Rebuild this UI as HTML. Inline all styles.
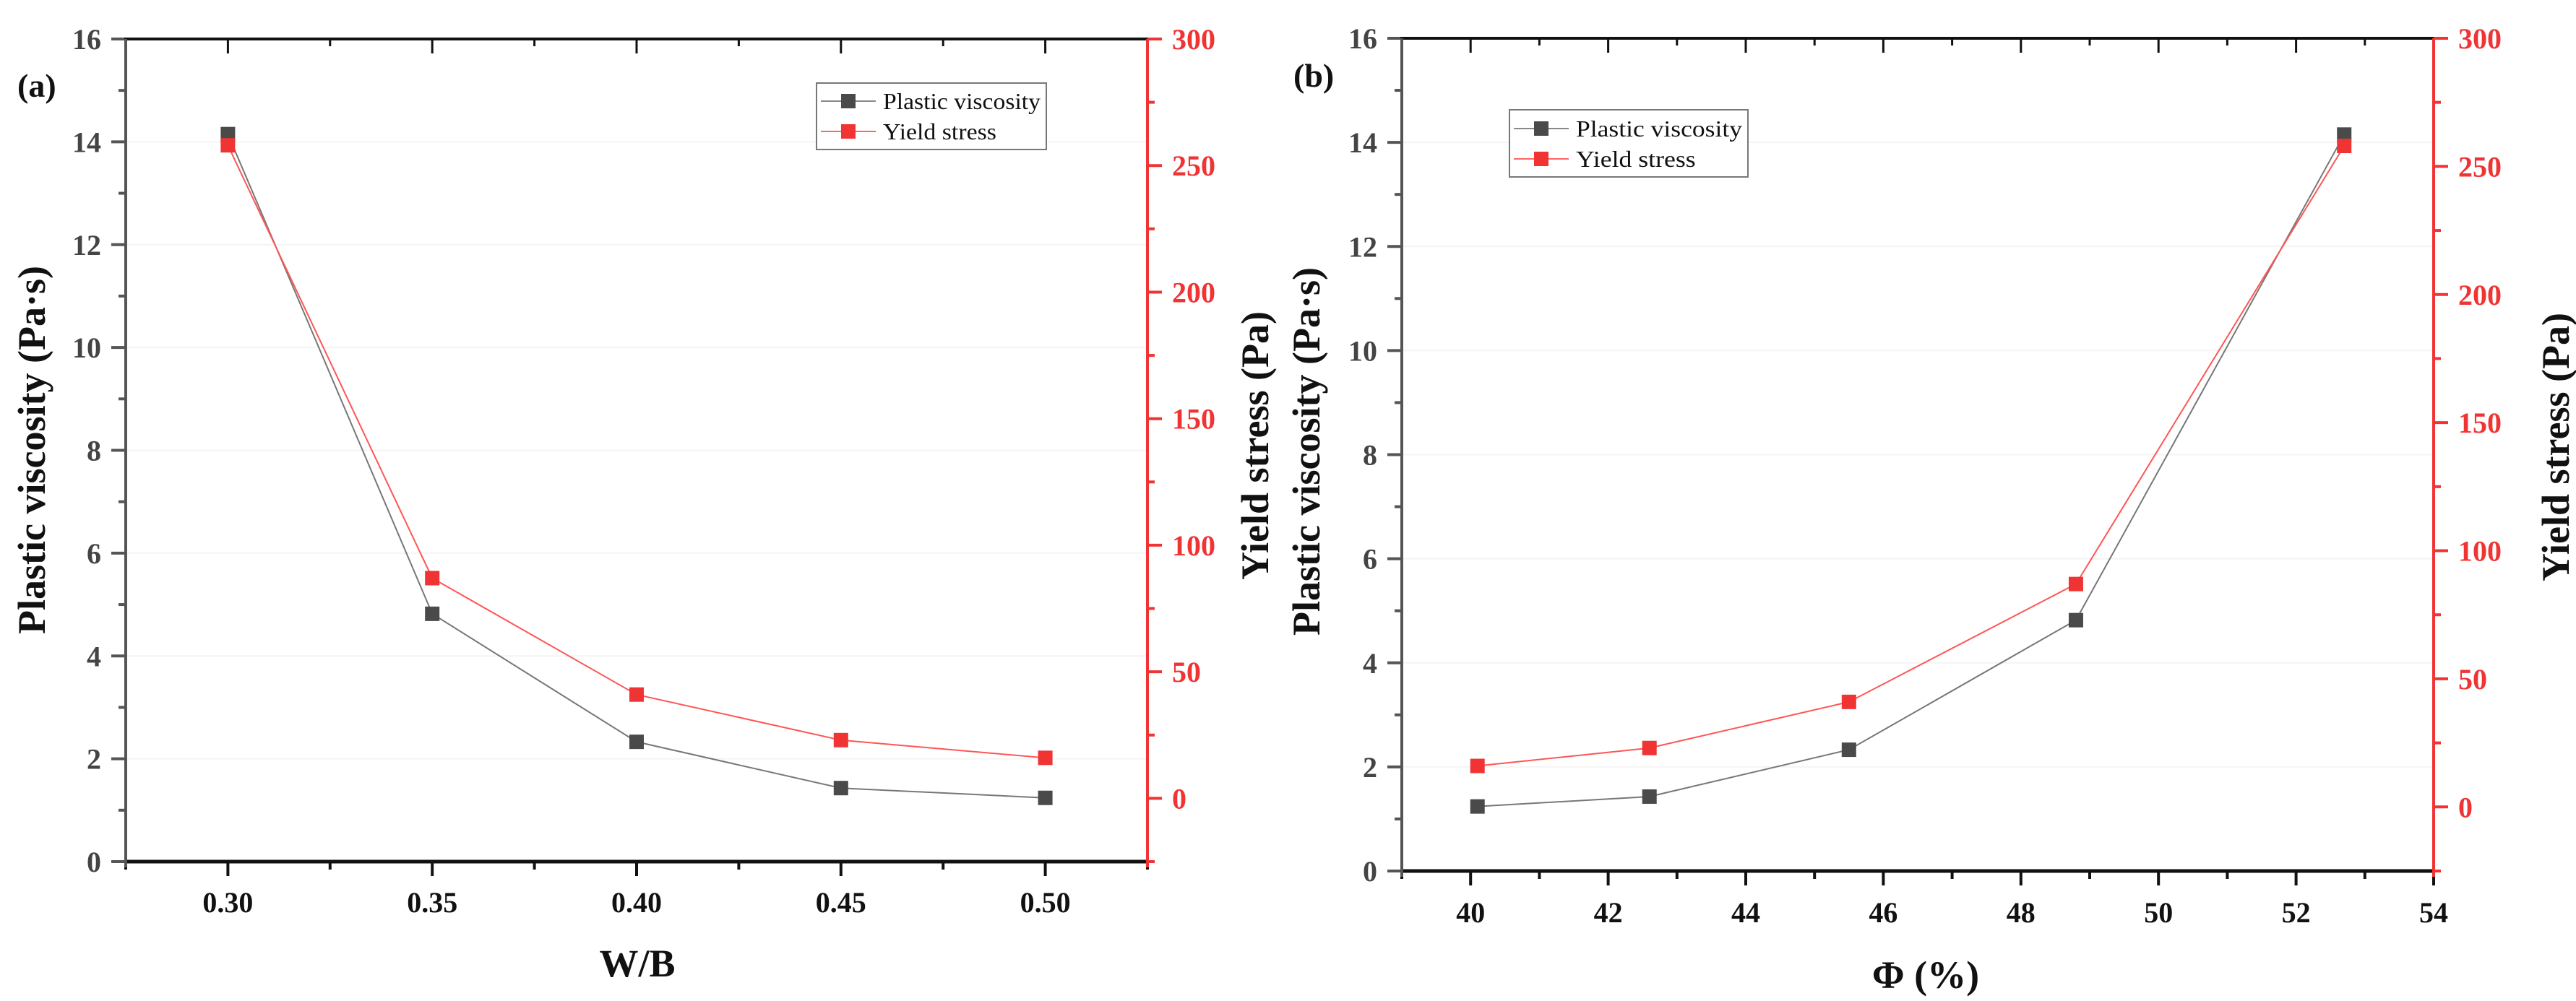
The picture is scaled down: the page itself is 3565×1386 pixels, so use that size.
<!DOCTYPE html>
<html><head><meta charset="utf-8"><style>
html,body{margin:0;padding:0;background:#fff;}
svg{display:block;font-family:"Liberation Serif",serif;}
svg text{font-family:"Liberation Serif",serif;}
</style></head><body>
<svg id="chart" width="3565" height="1386" viewBox="0 0 3565 1386" xmlns="http://www.w3.org/2000/svg"></svg>
<script>
// Panel (a) data
const wbCategories = [0.30, 0.35, 0.40, 0.45, 0.50];
const wbViscosity = [14.15, 4.82, 2.33, 1.43, 1.24];
const wbYield = [258, 87, 41, 23, 16];
const wbTickLabels = ["0.30", "0.35", "0.40", "0.45", "0.50"];
// Panel (b) data
const phiCategories = [40.1, 42.6, 45.5, 48.8, 52.7];
const phiViscosity = [1.24, 1.43, 2.33, 4.82, 14.15];
const phiYield = [16, 23, 41, 87, 258];
const phiTickLabels = ["40", "42", "44", "46", "48", "50", "52", "54"];
const leftTickLabels = ["0", "2", "4", "6", "8", "10", "12", "14", "16"];
const rightTickLabels = ["0", "50", "100", "150", "200", "250", "300"];

const NS = "http://www.w3.org/2000/svg";
const svg = document.getElementById("chart");
const FF = '"Liberation Serif", serif';
function mk(tag, attrs, parent, text) {
  const e = document.createElementNS(NS, tag);
  for (const k in attrs) e.setAttribute(k, attrs[k]);
  if (tag === "text") e.setAttribute("font-family", FF);
  if (text !== undefined) e.textContent = text;
  (parent || svg).appendChild(e);
  return e;
}
const RED = "#f03434", GRAY = "#4a4a4a";

function panel(cfg) {
  const g = mk("g", {});
  
  
  const {L, R, T, B} = cfg;
  const sx = v => L + (v - cfg.xmin) / (cfg.xmax - cfg.xmin) * (R - L);
  const syL = v => B - (v - 0) / 16 * (B - T);
  const syR = v => B - (v - (-25)) / 325 * (B - T);

  for (let v = 0; v <= 16; v += 2) {
    const gl = mk("line", {x1: L, x2: R, y1: syL(v), y2: syL(v), stroke: "#f4f4f4", "stroke-width": 2}, g);
    
    
  }

  cfg.xMajors.forEach((v, i) => {
    const x = sx(v);
    mk("line", {x1: x, x2: x, y1: B, y2: B + 20, stroke: "#111", "stroke-width": 4}, g);
    mk("line", {x1: x, x2: x, y1: T, y2: T + 20, stroke: "#111", "stroke-width": 3}, g);
    const t = mk("text", {x: x, y: cfg.xLabelY, "text-anchor": "middle", "font-size": 40, "font-weight": "bold", fill: "#111"}, g, cfg.xLabels[i]);
    
    
  });
  cfg.xMinors.forEach(v => {
    const x = sx(v);
    mk("line", {x1: x, x2: x, y1: B, y2: B + 11, stroke: "#111", "stroke-width": 4}, g);
    mk("line", {x1: x, x2: x, y1: T, y2: T + 10, stroke: "#111", "stroke-width": 3}, g);
  });
  for (let v = 0; v <= 16; v++) {
    const y = syL(v);
    const major = v % 2 === 0;
    mk("line", {x1: L - (major ? 20 : 10), x2: L, y1: y, y2: y, stroke: "#555", "stroke-width": 4}, g);
    if (major) {
      const t = mk("text", {x: L - 34, y: y + 14, "text-anchor": "end", "font-size": 40, "font-weight": "bold", fill: "#444"}, g, leftTickLabels[v / 2]);
      
      
    }
  }
  for (let v = -25; v <= 300; v += 25) {
    const y = syR(v);
    const major = v >= 0 && v % 50 === 0;
    mk("line", {x1: R, x2: R + (major ? 20 : 10), y1: y, y2: y, stroke: RED, "stroke-width": 4}, g);
    if (major) {
      const t = mk("text", {x: R + 34, y: y + 14, "text-anchor": "start", "font-size": 40, "font-weight": "bold", fill: RED}, g, rightTickLabels[v / 50]);
      
      
    }
  }
  const ab = mk("line", {x1: L - 2, x2: R, y1: B, y2: B, stroke: "#111", "stroke-width": 5}, g);
  
  
  mk("line", {x1: L - 2, x2: R, y1: T, y2: T, stroke: "#111", "stroke-width": 4}, g);
  const al = mk("line", {x1: L, x2: L, y1: T, y2: B + 8, stroke: "#555", "stroke-width": 4}, g);
  
  
  const ar = mk("line", {x1: R, x2: R, y1: T, y2: B + 8, stroke: RED, "stroke-width": 4}, g);
  
  

  const pv = cfg.xs.map((x, i) => sx(x) + "," + syL(cfg.visc[i])).join(" ");
  const ys = cfg.xs.map((x, i) => sx(x) + "," + syR(cfg.yld[i])).join(" ");
  const l1 = mk("polyline", {points: pv, fill: "none", stroke: "#777", "stroke-width": 2}, g);
  
  
  const l2 = mk("polyline", {points: ys, fill: "none", stroke: "#ff5555", "stroke-width": 2}, g);
  
  
  cfg.xs.forEach((x, i) => {
    const m1 = mk("rect", {x: sx(x) - 10, y: syL(cfg.visc[i]) - 10, width: 20, height: 20, fill: GRAY}, g);
    
    
  });
  cfg.xs.forEach((x, i) => {
    const m2 = mk("rect", {x: sx(x) - 10, y: syR(cfg.yld[i]) - 10, width: 20, height: 20, fill: RED}, g);
    
    
  });

  const lt = mk("text", {x: 0, y: 0, transform: `translate(${cfg.ltX},${cfg.ltY}) rotate(-90)`, "text-anchor": "middle", "font-size": 54, "font-weight": "bold", fill: "#111"}, g, "Plastic viscosity (Pa·s)");
  
  
  const rt = mk("text", {x: 0, y: 0, transform: `translate(${cfg.rtX},${cfg.rtY}) rotate(-90)`, "text-anchor": "middle", "font-size": 54, "font-weight": "bold", fill: "#111"}, g, "Yield stress (Pa)");
  
  
  const xt = mk("text", {x: cfg.xtX, y: cfg.xtY, "text-anchor": "middle", "font-size": 54, "font-weight": "bold", fill: "#111"}, g, cfg.xTitle);
  
  
  const pl = mk("text", {x: cfg.plX, y: cfg.plY, "font-size": 46, "font-weight": "bold", fill: "#111"}, g, cfg.label);
  
  

  const lg = mk("g", {}, g);
  
  
  const [bx, by, bw, bh] = cfg.legend;
  mk("rect", {x: bx, y: by, width: bw, height: bh, fill: "#fff", stroke: "#777", "stroke-width": 2}, lg);
  [["Plastic viscosity", "#888", GRAY, cfg.row1, 1], ["Yield stress", "#ff6666", RED, cfg.row2, 0.72]].forEach(([name, lc, mc, ry, frac]) => {
    const e = mk("g", {}, lg);
    
    
    mk("line", {x1: bx + 6, x2: bx + 82, y1: ry, y2: ry, stroke: lc, "stroke-width": 2}, e);
    mk("rect", {x: bx + 34, y: ry - 10, width: 20, height: 20, fill: mc}, e);
    mk("text", {x: bx + 92, y: ry + 11, "font-size": 32, fill: "#111", textLength: (bw - 100) * frac, lengthAdjust: "spacingAndGlyphs"}, e, name);
  });
}

panel({name: "panel-a", L: 174, R: 1588, T: 54, B: 1193, xmin: 0.275, xmax: 0.525,
  xs: wbCategories, visc: wbViscosity, yld: wbYield,
  xMajors: wbCategories, xLabels: wbTickLabels, xMinors: [0.275, 0.325, 0.375, 0.425, 0.475, 0.525],
  xLabelY: 1263, ltX: 62, ltY: 623, rtX: 1755, rtY: 617, xtX: 882, xtY: 1352, xTitle: "W/B",
  plX: 24, plY: 134, label: "(a)",
  legend: [1130, 115, 318, 92], row1: 140, row2: 182});

panel({name: "panel-b", L: 1940, R: 3368, T: 53, B: 1206, xmin: 39, xmax: 54,
  xs: phiCategories, visc: phiViscosity, yld: phiYield,
  xMajors: [40, 42, 44, 46, 48, 50, 52, 54], xLabels: phiTickLabels, xMinors: [39, 41, 43, 45, 47, 49, 51, 53],
  xLabelY: 1277, ltX: 1826, ltY: 625, rtX: 3555, rtY: 619, xtX: 2665, xtY: 1368, xTitle: "Φ (%)",
  plX: 1790, plY: 120, label: "(b)",
  legend: [2089, 152, 330, 93], row1: 178, row2: 220});
</script>
</body></html>
